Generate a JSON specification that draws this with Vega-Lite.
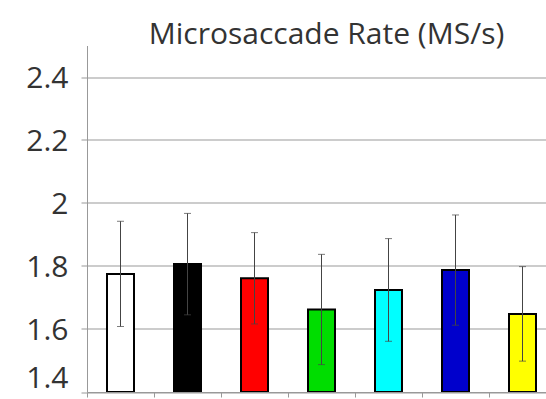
{
  "$schema": "https://vega.github.io/schema/vega-lite/v6.json",
  "width": 459,
  "height": 346.5,
  "autosize": {"type": "none"},
  "padding": {"left": 87, "top": 45.5, "right": 0, "bottom": 7},
  "background": "white",
  "title": {"text": "Microsaccade Rate (MS/s)", "fontSize": 30, "font": "Open Sans", "fontWeight": "normal", "color": "#333", "offset": 0, "dy": 4, "anchor": "middle", "dx": 10},
  "data": {"values": [
    {"condition": "C1", "mean": 1.775, "err": 0.167},
    {"condition": "C2", "mean": 1.806, "err": 0.161},
    {"condition": "C3", "mean": 1.761, "err": 0.145},
    {"condition": "C4", "mean": 1.662, "err": 0.175},
    {"condition": "C5", "mean": 1.724, "err": 0.163},
    {"condition": "C6", "mean": 1.787, "err": 0.175},
    {"condition": "C7", "mean": 1.648, "err": 0.15}
  ]},
  "encoding": {
    "x": {"field": "condition", "type": "nominal", "sort": null,
      "scale": {"range": [0, 469], "paddingInner": 0, "paddingOuter": 0},
      "axis": {"labels": false, "title": null, "domainColor": "#999", "tickColor": "#999", "tickSize": 5, "bandPosition": 0, "grid": false}}
  },
  "layer": [
    {
      "mark": {"type": "bar", "width": 27, "stroke": "black", "strokeWidth": 2, "clip": true},
      "encoding": {
        "y": {"field": "mean", "type": "quantitative",
          "scale": {"domain": [1.4, 2.5], "zero": false, "nice": false, "clamp": true},
          "axis": {"values": [1.4, 1.6, 1.8, 2, 2.2, 2.4], "format": "~g", "title": null, "grid": true, "gridColor": "#999", "domainColor": "#999", "tickColor": "#999", "tickSize": 6, "labelFontSize": 30, "labelFont": "Open Sans", "labelColor": "#333", "labelPadding": 13, "labelFlush": true, "labelOffset": 1}},
        "color": {"field": "condition", "type": "nominal", "legend": null,
          "scale": {"domain": ["C1", "C2", "C3", "C4", "C5", "C6", "C7"], "range": ["#ffffff", "#000000", "#ff0000", "#00dd00", "#00ffff", "#0000cc", "#ffff00"]}}
      }
    },
    {
      "mark": {"type": "errorbar", "ticks": {"size": 7}, "color": "#444", "thickness": 1},
      "encoding": {
        "y": {"field": "mean", "type": "quantitative"},
        "yError": {"field": "err"}
      }
    }
  ],
  "config": {"view": {"stroke": null}}
}
